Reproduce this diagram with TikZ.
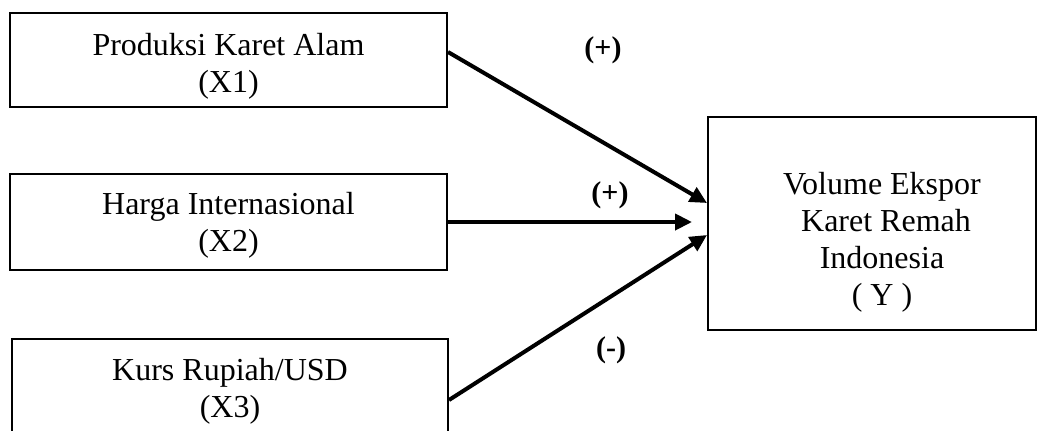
\documentclass[tikz,border=0pt]{standalone}
\usepackage{fontspec}
\setmainfont{Liberation Serif}
\usetikzlibrary{arrows.meta}
\tikzset{
  varbox/.style={draw, line width=1pt, inner sep=0pt, anchor=center},
  boxtext/.style={inner sep=0pt, anchor=north, align=center, font=\fontsize{16}{18.5}\selectfont},
  signlabel/.style={inner sep=0pt, font=\fontsize{15}{17}\selectfont\bfseries},
  arr/.style={line width=2pt, -{Triangle[length=8.5pt,width=8pt]}}
}
\begin{document}
\begin{tikzpicture}[x=0.5pt,y=-0.5pt]
\useasboundingbox (0,0) rectangle (1042,430);
\clip (0,0) rectangle (1042,430);
% boxes
\node[varbox, minimum width=218.5pt, minimum height=47pt] (b1) at (228.5,60) {};
\node[varbox, minimum width=218.5pt, minimum height=48pt] (b2) at (228.5,222) {};
\node[varbox, minimum width=218pt, minimum height=53pt] (b3) at (230,392) {};
\node[varbox, minimum width=164pt, minimum height=106.5pt] (bY) at (872,223.5) {};
% texts
\node[boxtext] (t1) at (228.5,33) {Produksi Karet Alam\\(X1)};
\node[boxtext] (t2) at (228.5,192) {Harga Internasional\\(X2)};
\node[boxtext] (t3) at (230,358) {Kurs Rupiah/USD\\(X3)};
\node[boxtext] (tY) at (882,172) {Volume Ekspor\\~Karet Remah\\Indonesia\\( Y )};
% sign labels
\node[signlabel] (l1) at (603,50) {(+)};
\node[signlabel] (l2) at (610,195) {(+)};
\node[signlabel] (l3) at (611,350) {(-)};
% arrows
\draw[arr] ([yshift=4pt]b1.east) -- ([yshift=10.25pt]bY.west);
\draw[arr, shorten >=7.5pt] (b2.east) -- (b2.east -| bY.west);
\draw[arr] ([yshift=-4pt]b3.east) -- ([yshift=-5.75pt]bY.west);
\end{tikzpicture}
\end{document}
